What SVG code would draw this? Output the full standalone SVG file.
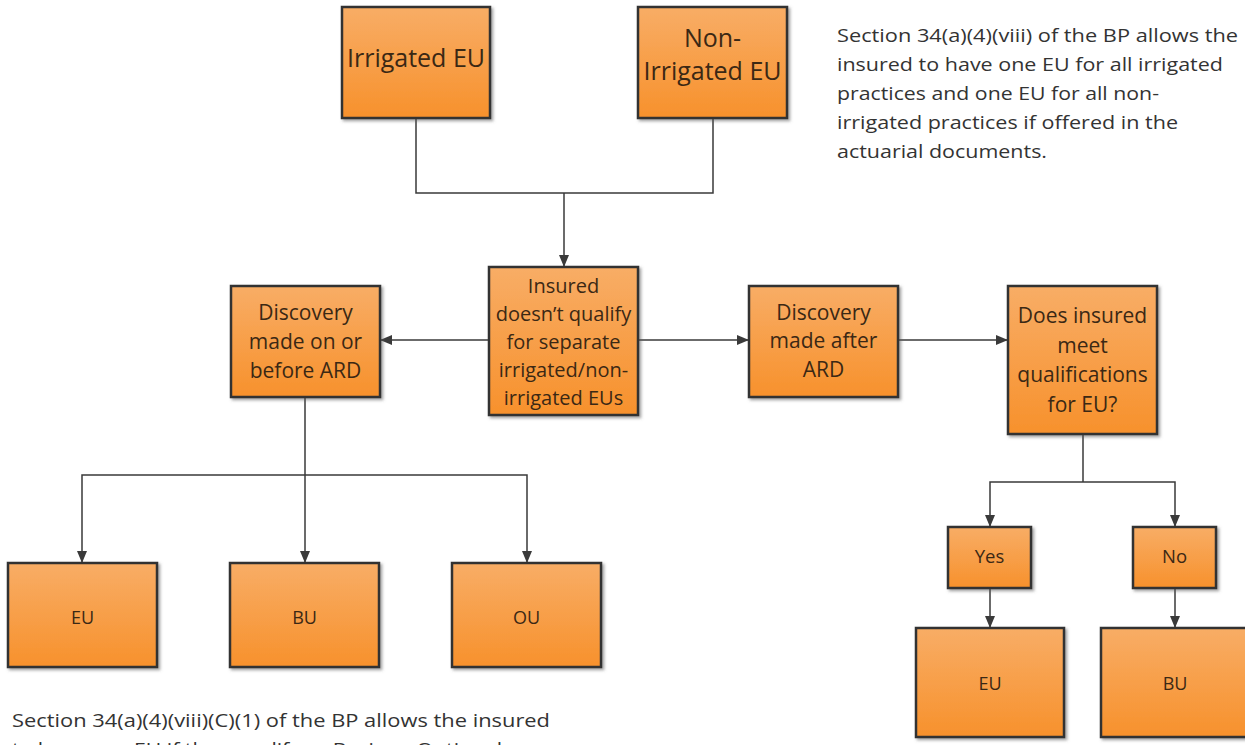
<svg xmlns="http://www.w3.org/2000/svg" width="1245" height="745" viewBox="0 0 1245 745">
  <defs>
    <linearGradient id="og" x1="0" y1="0" x2="0" y2="1">
      <stop offset="0" stop-color="#F8AD66"/>
      <stop offset="1" stop-color="#F7912C"/>
    </linearGradient>
    <filter id="sh" x="-10%" y="-10%" width="125%" height="125%">
      <feDropShadow dx="2" dy="2" stdDeviation="1.5" flood-color="#555" flood-opacity="0.55"/>
    </filter>
    <marker id="ah" viewBox="0 0 12 12" refX="12" refY="6" markerWidth="12" markerHeight="12" markerUnits="userSpaceOnUse" orient="auto">
      <path d="M0,1 L12,6 L0,11 z" fill="#3a3a3a"/>
    </marker>
    <style>
      .box { fill: url(#og); stroke: #333; stroke-width: 2.5; filter: url(#sh); }
      .lbl { font-family: "Open Sans", "Liberation Sans", sans-serif; fill: #3b2814; text-anchor: middle; }
      .para { font-family: "Open Sans", "Liberation Sans", sans-serif; fill: #333; font-size: 19px; }
      .con { fill: none; stroke: #3a3a3a; stroke-width: 1.5; }
      .arr { fill: none; stroke: #3a3a3a; stroke-width: 1.5; marker-end: url(#ah); }
    </style>
  </defs>
  <rect width="1245" height="745" fill="#fff"/>

  <g id="connectors">
    <polyline class="con" points="416,118 416,193 713,193 713,118"/>
    <line class="arr" x1="564" y1="193" x2="564" y2="267"/>
    <line class="arr" x1="489" y1="340" x2="380" y2="340"/>
    <line class="arr" x1="638" y1="340" x2="749" y2="340"/>
    <line class="arr" x1="898" y1="340" x2="1008" y2="340"/>
    <line class="arr" x1="305" y1="397" x2="305" y2="563"/>
    <polyline class="arr" points="305,475 82,475 82,563"/>
    <polyline class="arr" points="305,475 527,475 527,563"/>
    <line class="con" x1="1083" y1="434" x2="1083" y2="482"/>
    <polyline class="arr" points="1083,482 990,482 990,527"/>
    <polyline class="arr" points="1083,482 1175,482 1175,527"/>
    <line class="arr" x1="990" y1="588" x2="990" y2="628"/>
    <line class="arr" x1="1175" y1="588" x2="1175" y2="628"/>
  </g>

  <g id="irrigated">
    <rect class="box" x="342" y="7" width="148" height="111"/>
    <text class="lbl" x="416" y="67" font-size="25">Irrigated EU</text>
  </g>
  <g id="non-irrigated">
    <rect class="box" x="638" y="7" width="149" height="111"/>
    <text class="lbl" x="712.5" y="47" font-size="25">Non-</text>
    <text class="lbl" x="712.5" y="80" font-size="25">Irrigated EU</text>
  </g>
  <g id="not-qualify">
    <rect class="box" x="489" y="267" width="149" height="148"/>
    <text class="lbl" x="563.5" y="293" font-size="20">Insured</text>
    <text class="lbl" x="563.5" y="321" font-size="20">doesn’t qualify</text>
    <text class="lbl" x="563.5" y="349" font-size="20">for separate</text>
    <text class="lbl" x="563.5" y="377" font-size="20">irrigated/non-</text>
    <text class="lbl" x="563.5" y="405" font-size="20">irrigated EUs</text>
  </g>
  <g id="before-ard">
    <rect class="box" x="231" y="286" width="149" height="111"/>
    <text class="lbl" x="305.5" y="320" font-size="21">Discovery</text>
    <text class="lbl" x="305.5" y="349" font-size="21">made on or</text>
    <text class="lbl" x="305.5" y="378" font-size="21">before ARD</text>
  </g>
  <g id="after-ard">
    <rect class="box" x="749" y="286" width="149" height="111"/>
    <text class="lbl" x="823.5" y="320" font-size="21">Discovery</text>
    <text class="lbl" x="823.5" y="348" font-size="21">made after</text>
    <text class="lbl" x="823.5" y="377" font-size="21">ARD</text>
  </g>
  <g id="meet-qual">
    <rect class="box" x="1008" y="286" width="149" height="148"/>
    <text class="lbl" x="1082.5" y="323" font-size="21">Does insured</text>
    <text class="lbl" x="1082.5" y="353" font-size="21">meet</text>
    <text class="lbl" x="1082.5" y="382" font-size="21">qualifications</text>
    <text class="lbl" x="1082.5" y="412" font-size="21">for EU?</text>
  </g>
  <g id="eu-left">
    <rect class="box" x="8" y="563" width="149" height="104"/>
    <text class="lbl" x="82.5" y="624" font-size="18">EU</text>
  </g>
  <g id="bu-left">
    <rect class="box" x="230" y="563" width="149" height="104"/>
    <text class="lbl" x="304.5" y="624" font-size="18">BU</text>
  </g>
  <g id="ou-left">
    <rect class="box" x="452" y="563" width="149" height="104"/>
    <text class="lbl" x="526.5" y="624" font-size="18">OU</text>
  </g>
  <g id="yes">
    <rect class="box" x="948" y="527" width="83" height="61"/>
    <text class="lbl" x="989.5" y="563" font-size="18.5">Yes</text>
  </g>
  <g id="no">
    <rect class="box" x="1133" y="527" width="83" height="61"/>
    <text class="lbl" x="1174.5" y="563" font-size="18.5">No</text>
  </g>
  <g id="eu-right">
    <rect class="box" x="916" y="628" width="148" height="109"/>
    <text class="lbl" x="990" y="690" font-size="18">EU</text>
  </g>
  <g id="bu-right">
    <rect class="box" x="1101" y="628" width="149" height="109"/>
    <text class="lbl" x="1175" y="690" font-size="18">BU</text>
  </g>

  <g id="note-top">
    <text class="para" x="837" y="42" textLength="401" lengthAdjust="spacingAndGlyphs">Section 34(a)(4)(viii) of the BP allows the</text>
    <text class="para" x="837" y="71" textLength="386" lengthAdjust="spacingAndGlyphs">insured to have one EU for all irrigated</text>
    <text class="para" x="837" y="100" textLength="322" lengthAdjust="spacingAndGlyphs">practices and one EU for all non-</text>
    <text class="para" x="837" y="129" textLength="341" lengthAdjust="spacingAndGlyphs">irrigated practices if offered in the</text>
    <text class="para" x="837" y="158" textLength="210" lengthAdjust="spacingAndGlyphs">actuarial documents.</text>
  </g>
  <g id="note-bottom">
    <text class="para" x="12" y="727" textLength="538" lengthAdjust="spacingAndGlyphs">Section 34(a)(4)(viii)(C)(1) of the BP allows the insured</text>
    <text class="para" x="12" y="756" textLength="490" lengthAdjust="spacingAndGlyphs">to have one EU if they qualify as Basic or Optional</text>
  </g>
</svg>
